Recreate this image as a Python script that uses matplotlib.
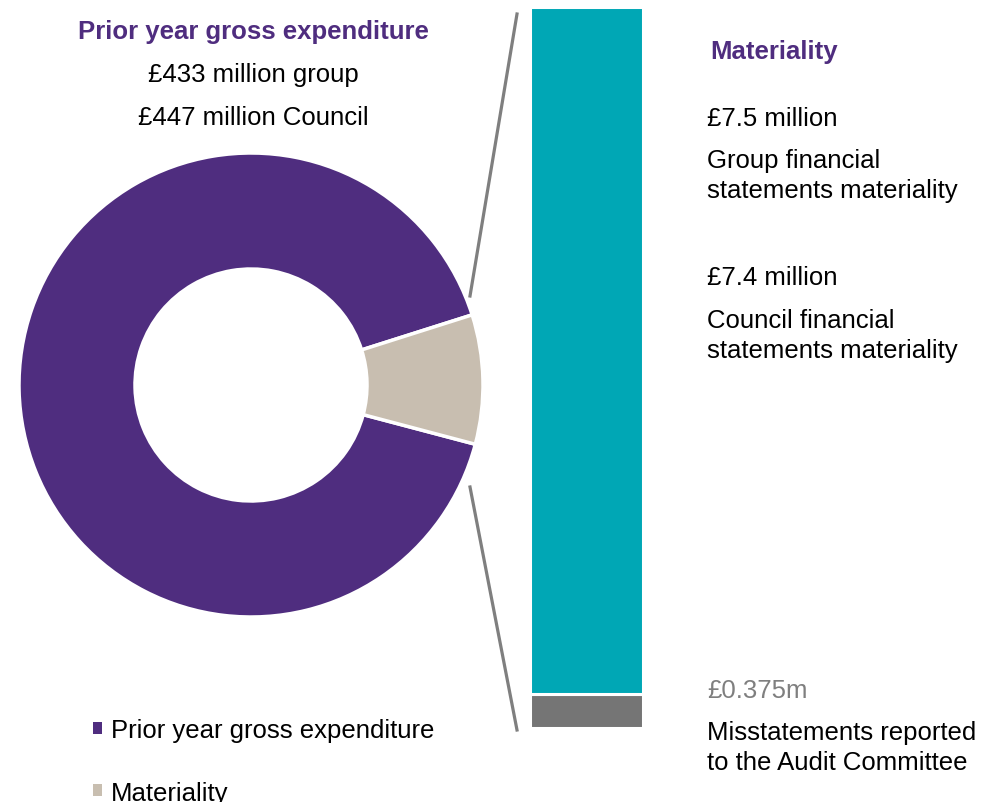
import matplotlib
matplotlib.use("Agg")
import matplotlib.pyplot as plt
from matplotlib.patches import Patch
from matplotlib.lines import Line2D

plt.rcParams['font.family'] = ['Liberation Sans', 'DejaVu Sans']

# Data
donut_labels = ["Prior year gross expenditure", "Materiality"]
donut_values = [91, 9]
bar_labels = ["Misstatements", "Materiality"]
bar_values = [0.375, 7.5]

PURPLE = "#4F2D7F"
BEIGE = "#C8BEB0"
TEAL = "#00A7B5"
GREY = "#757575"
LINE = "#7F7F7F"

W, H = 982, 803
fig = plt.figure(figsize=(W / 100, H / 100), dpi=100)

def fx(x):
    return x / W

def fy(y):
    return 1 - y / H

# Donut
cx, cy, R = 251, 386, 232
axd = fig.add_axes([fx(cx - R), fy(cy + R), 2 * R / W, 2 * R / H])
axd.pie(donut_values, colors=[PURPLE, BEIGE], startangle=17.6, counterclock=True,
        radius=1.0, wedgeprops=dict(width=0.5, edgecolor="white", linewidth=2.5))
axd.set_xlim(-1, 1)
axd.set_ylim(-1, 1)
axd.set_aspect("auto")
axd.axis("off")

# Stacked bar
bx0, bx1, by0, by1 = 530, 643, 729, 8
axb = fig.add_axes([fx(bx0), fy(by0), (bx1 - bx0) / W, (by0 - by1) / H])
bottom = 0
for v, c in zip(bar_values, [GREY, TEAL]):
    axb.bar(0, v, bottom=bottom, width=1.0, color=c, edgecolor="white", linewidth=2.2)
    bottom += v
axb.set_xlim(-0.5, 0.5)
axb.set_ylim(0, sum(bar_values))
axb.axis("off")

# Connector lines
fig.add_artist(Line2D([fx(470), fx(517)], [fy(297), fy(15)], color=LINE, linewidth=2.3))
fig.add_artist(Line2D([fx(470), fx(517)], [fy(488), fy(731)], color=LINE, linewidth=2.3))

FS = 18.5
D = 2  # vertical nudge
# Left texts
fig.text(fx(253), fy(30 + D), "Prior year gross expenditure", ha="center", va="center",
         fontsize=FS, fontweight="bold", color=PURPLE)
fig.text(fx(253), fy(73 + D), "£433 million group", ha="center", va="center", fontsize=FS, color="black")
fig.text(fx(253), fy(116 + D), "£447 million Council", ha="center", va="center", fontsize=FS, color="black")

# Right texts
tx = fx(707)
fig.text(fx(710), fy(50 + D), "Materiality", ha="left", va="center", fontsize=FS,
         fontweight="bold", color=PURPLE)
rows = [
    (117, "£7.5 million", "black"),
    (159, "Group financial", "black"),
    (189, "statements materiality", "black"),
    (276, "£7.4 million", "black"),
    (319, "Council financial", "black"),
    (349, "statements materiality", "black"),
    (689, "£0.375m", "#7F7F7F"),
    (731, "Misstatements reported", "black"),
    (761, "to the Audit Committee", "black"),
]
for y, s, c in rows:
    fig.text(tx, fy(y + D), s, ha="left", va="center", fontsize=FS, color=c)

# Legend
handles = [Patch(facecolor=c, edgecolor="none") for c in [PURPLE, BEIGE]]
fig.legend(handles, donut_labels, loc="upper left", bbox_to_anchor=(fx(93), fy(719)),
           frameon=False, fontsize=FS, handlelength=0.35, handleheight=0.35,
           handletextpad=0.35, labelspacing=1.5, borderaxespad=0, borderpad=0)

fig.savefig("out.png", dpi=100)
